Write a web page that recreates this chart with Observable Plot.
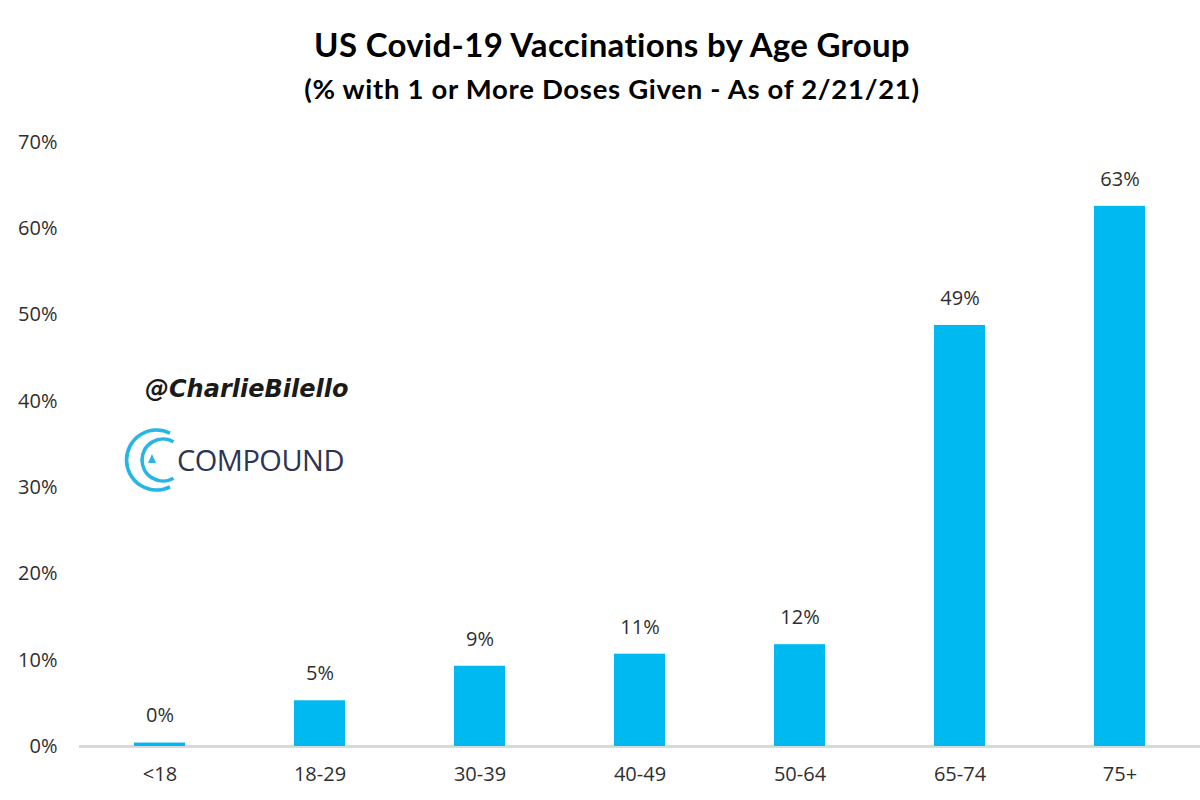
<!DOCTYPE html>
<html>
<head>
<meta charset="utf-8">
<script src="https://cdn.jsdelivr.net/npm/d3@7"></script>
<script src="https://cdn.jsdelivr.net/npm/@observablehq/plot@0.6"></script>
<style>
  html, body { margin: 0; padding: 0; background: #fff; }
  #wrap { position: relative; width: 1200px; height: 800px; overflow: hidden; }
  #head { position: relative; height: 120px; }
  .t { position: absolute; left: 24px; right: 0; text-align: center; color: #000; font-family: Lato, "Open Sans", sans-serif; font-weight: 700; white-space: nowrap; }
  #title { top: 25px; font-size: 33px; line-height: 38px; letter-spacing: 0.3px; }
  #subtitle { top: 73px; font-size: 27.5px; line-height: 32px; letter-spacing: 0.7px; }
  #handle { position: absolute; left: 145px; top: 373px; font-family: "DejaVu Sans", sans-serif; font-style: italic; font-weight: 700; font-size: 24px; line-height: 32px; color: #1a1a1a; white-space: nowrap; }
  #logo { position: absolute; left: 120px; top: 420px; }
  #brand { position: absolute; left: 177px; top: 440px; font-family: "Open Sans", sans-serif; font-weight: 400; font-size: 29px; line-height: 40px; color: #2c3553; white-space: nowrap; letter-spacing: -0.5px; }
  svg text { font-family: "Open Sans", sans-serif; }
</style>
</head>
<body>
<div id="wrap">
  <div id="head">
    <div class="t" id="title">US Covid-19 Vaccinations by Age Group</div>
    <div class="t" id="subtitle">(% with 1 or More Doses Given - As of 2/21/21)</div>
  </div>
  <div id="chart"></div>
  <div id="handle">@CharlieBilello</div>
  <svg id="logo" width="60" height="80" viewBox="0 0 60 80">
    <path d="M 50.0 13.2 A 30 30 0 1 0 50.0 66.8" fill="none" stroke="#27b5e8" stroke-width="3.6"/>
    <path d="M 53.5 21.8 A 21 21 0 1 0 53.5 58.2" fill="none" stroke="#27b5e8" stroke-width="3.6"/>
    <path d="M 32 34 L 36 43 L 28 43 Z" fill="#27b5e8"/>
  </svg>
  <div id="brand">COMPOUND</div>
</div>
<script>
const groups = ["<18", "18-29", "30-39", "40-49", "50-64", "65-74", "75+"];
const values = [0.4, 5.3, 9.3, 10.7, 11.8, 48.8, 62.6];
const valueLabels = ["0%", "5%", "9%", "11%", "12%", "49%", "63%"];
const yTicks = [0, 10, 20, 30, 40, 50, 60, 70];

const data = groups.map((g, i) => ({group: g, value: values[i], label: valueLabels[i]}));

const chart = Plot.plot({
  width: 1200,
  height: 680,
  marginLeft: 79,
  marginRight: 0,
  marginTop: 22,
  marginBottom: 54,
  style: {fontFamily: "'Open Sans', sans-serif", background: "#fff"},
  x: {domain: groups, paddingInner: 0.68, paddingOuter: 0.34, label: null},
  y: {domain: [0, 70], label: null},
  marks: [
    Plot.ruleY([0], {stroke: "#d9d9d9", strokeWidth: 3}),
    Plot.barY(data, {x: "group", y: "value", fill: "#00b9f0"}),
    Plot.text(data, {x: "group", y: "value", text: "label", dy: -27, lineAnchor: "middle", fontSize: 20, fill: "#2f2f2f"}),
    Plot.axisY({ticks: yTicks, tickSize: 0, tickPadding: 22, tickFormat: d => d + "%", fontSize: 20, fill: "#2f2f2f", label: null}),
    Plot.axisX({tickSize: 0, tickPadding: 20, fontSize: 20, fill: "#2f2f2f", label: null})
  ]
});
document.getElementById("chart").appendChild(chart);
</script>
</body>
</html>
